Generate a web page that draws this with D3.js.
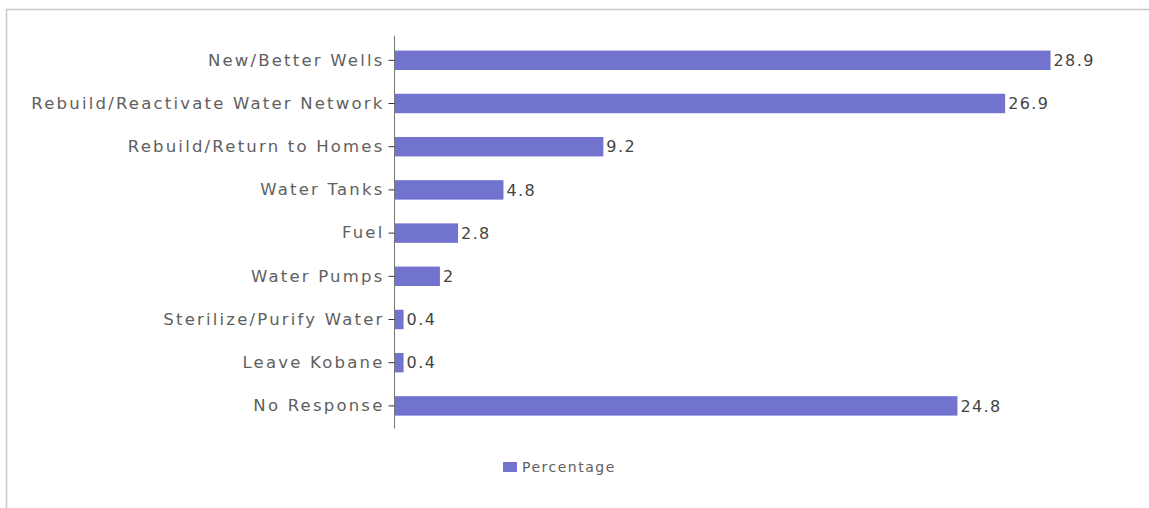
<!DOCTYPE html>
<html>
<head>
<meta charset="utf-8">
<script src="https://cdn.jsdelivr.net/npm/d3@7"></script>
<style>
  html, body { margin: 0; padding: 0; background: #fff; }
  svg { display: block; }
  .cat text { font-family: "DejaVu Sans", sans-serif; font-size: 16.5px; fill: #606060; letter-spacing: 2.2px; }
  .val { font-family: "DejaVu Sans", sans-serif; font-size: 16px; fill: #444; letter-spacing: 1.4px; }
  .legend text { font-family: "DejaVu Sans", sans-serif; font-size: 14px; fill: #606060; letter-spacing: 1.5px; }
</style>
</head>
<body>
<svg id="chart" width="1149" height="508"></svg>
<script>
// Responses: what is needed to improve water access
const categories = [
  "New/Better Wells",
  "Rebuild/Reactivate Water Network",
  "Rebuild/Return to Homes",
  "Water Tanks",
  "Fuel",
  "Water Pumps",
  "Sterilize/Purify Water",
  "Leave Kobane",
  "No Response"
];
const percentages = [28.9, 26.9, 9.2, 4.8, 2.8, 2, 0.4, 0.4, 24.8];
const seriesName = "Percentage";

const svg = d3.select("#chart");
const W = 1149, H = 508;

// Frame around the chart area
svg.append("rect")
  .attr("x", 6.5).attr("y", 9.5)
  .attr("width", W + 10).attr("height", H + 10)
  .attr("fill", "#fff")
  .attr("stroke", "#c8c8c8")
  .attr("stroke-width", 1.5);

const plot = { left: 394.5, top: 38.7, bottom: 427.5 };

const x = d3.scaleLinear().domain([0, 30]).range([plot.left, plot.left + 681]);
const y = d3.scaleBand().domain(categories).range([plot.top, plot.bottom]).paddingInner(0.55).paddingOuter(0.275);

const color = "#7173cf";

// Bars
svg.append("g")
  .selectAll("rect")
  .data(categories)
  .join("rect")
  .attr("x", x(0))
  .attr("y", d => y(d))
  .attr("width", (d, i) => x(percentages[i]) - x(0))
  .attr("height", y.bandwidth())
  .attr("fill", color);

// Category axis
const yAxis = d3.axisLeft(y).tickSize(6).tickPadding(4);
const ax = svg.append("g")
  .attr("class", "cat")
  .attr("transform", `translate(${plot.left},0)`)
  .call(yAxis);
ax.select(".domain").attr("stroke", "#777").attr("d", `M0,${plot.top - 3}V${plot.bottom + 1}`);
ax.selectAll(".tick line").attr("stroke", "#333");

// Value labels
svg.append("g")
  .selectAll("text")
  .data(categories)
  .join("text")
  .attr("class", "val")
  .attr("x", (d, i) => x(percentages[i]) + 3)
  .attr("y", d => y(d) + y.bandwidth() / 2)
  .attr("dy", "0.36em")
  .text((d, i) => d3.format("")(percentages[i]));

// Legend
const lg = svg.append("g").attr("class", "legend").attr("transform", "translate(503,462)");
lg.append("rect").attr("width", 14).attr("height", 10).attr("fill", color);
lg.append("text").attr("x", 19).attr("y", 5).attr("dy", "0.36em").text(seriesName);
</script>
</body>
</html>
